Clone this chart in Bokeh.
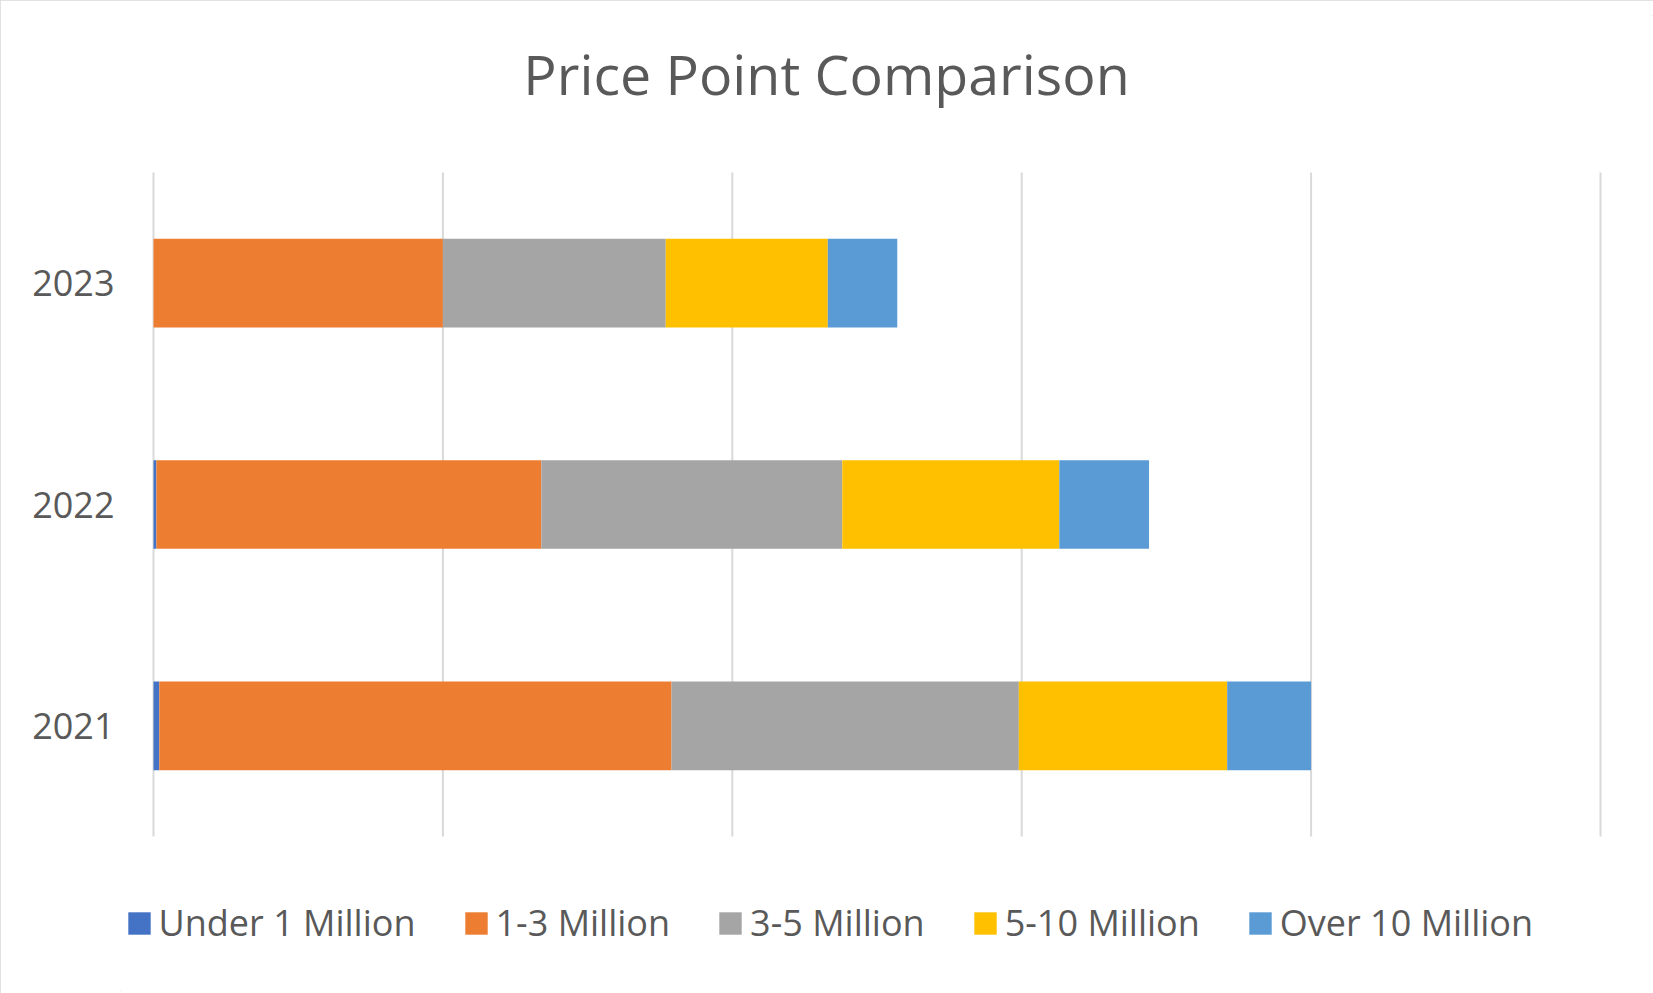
from bokeh.plotting import figure
from bokeh.models import FactorRange, Legend, LegendItem, Range1d, ColumnDataSource, Label
from bokeh.embed import file_html
from bokeh.resources import INLINE

# ---- data (values in units where one gridline interval = 100) ----
years = ["2021", "2022", "2023"]
series = ["Under 1 Million", "1-3 Million", "3-5 Million", "5-10 Million", "Over 10 Million"]
under_1m = [2, 1, 0]
m1_3 = [177, 133, 100]
m3_5 = [120, 104, 77]
m5_10 = [72, 75, 56]
over_10m = [29, 31, 24]
grid_ticks = [0, 100, 200, 300, 400, 500]
colors = ["#4472C4", "#ED7D31", "#A5A5A5", "#FFC000", "#5B9BD5"]
title_text = "Price Point Comparison"

FONT = "Open Sans"
TXT = "#595959"
GRID = "#D9D9D9"

# ---- layout constants (pixels) ----
W, H = 1653, 993
LEFT = 120            # frame left edge
TOP = 15              # frame top edge
X0_PX, X500_PX = 153, 1600
px_per_unit = (X500_PX - X0_PX) / 500.0
x_start = -(X0_PX - LEFT) / px_per_unit
x_end = x_start + (W - LEFT) / px_per_unit
cat_px = 221.4
pad = ((H - TOP) / cat_px - len(years)) / 2.0

source = ColumnDataSource(dict(
    year=years,
    **{series[0]: under_1m, series[1]: m1_3, series[2]: m3_5,
       series[3]: m5_10, series[4]: over_10m}
))

p = figure(
    width=W, height=H,
    y_range=FactorRange(factors=years, range_padding=pad, range_padding_units="absolute"),
    x_range=Range1d(x_start, x_end),
    output_backend="svg", toolbar_location=None,
    min_border_left=LEFT, min_border_right=0,
    min_border_top=TOP, min_border_bottom=0,
    background_fill_color="white", border_fill_color="white",
)
p.outline_line_color = None
p.styles = {"outline": "3px solid #D9D9D9", "outline-offset": "-3px"}

# vertical gridlines limited to the category band
p.segment(x0=grid_ticks, x1=grid_ticks, y0=[0] * len(grid_ticks),
          y1=[len(years)] * len(grid_ticks), line_color=GRID, line_width=2)

renderers = p.hbar_stack(series, y="year", height=0.4, source=source,
                         fill_color=colors, line_color=None)

# axes / grid
p.xaxis.visible = False
p.xgrid.visible = False
p.ygrid.visible = False

p.yaxis.axis_line_color = None
p.yaxis.major_tick_line_color = None
p.yaxis.minor_tick_line_color = None
p.yaxis.major_label_text_font = FONT
p.yaxis.major_label_text_font_size = "36px"
p.yaxis.major_label_text_color = TXT
p.yaxis.major_label_standoff = 0

# title (frame-relative screen units)
title = Label(x=826 - LEFT, y=H - 72.5, x_units="screen", y_units="screen",
              text=title_text, text_align="center", text_baseline="alphabetic",
              text_font=FONT, text_font_size="55.5px", text_color=TXT)
p.add_layout(title)

# legend
legend = Legend(
    items=[LegendItem(label=s, renderers=[r]) for s, r in zip(series, renderers)],
    orientation="horizontal", location=(124.5 - LEFT, 46),
    padding=0, margin=0, spacing=46, label_standoff=6,
    glyph_width=28, glyph_height=28,
    label_text_font=FONT, label_text_font_size="36px", label_text_color=TXT,
    border_line_color=None, background_fill_alpha=0,
)
p.add_layout(legend, "center")

open("out.html", "w").write(file_html(p, INLINE))
